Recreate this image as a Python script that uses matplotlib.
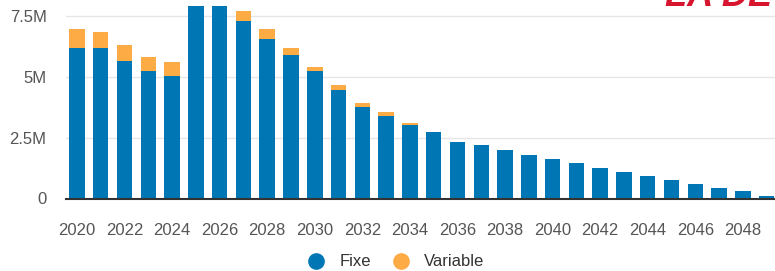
import matplotlib
matplotlib.use('Agg')
import matplotlib.pyplot as plt
from matplotlib.lines import Line2D
from matplotlib.ticker import FuncFormatter

plt.rcParams['font.family'] = ['Liberation Sans', 'DejaVu Sans']

# Annual repayment schedule (millions)
years = list(range(2020, 2050))
fixe = [6.18, 6.18, 5.64, 5.22, 5.04, 8.6, 8.4, 7.28, 6.56, 5.91,
        5.22, 4.45, 3.76, 3.37, 3.03, 2.72, 2.34, 2.19, 2.01, 1.80,
        1.63, 1.46, 1.24, 1.09, 0.94, 0.77, 0.60, 0.44, 0.29, 0.12]
variable = [0.77, 0.65, 0.66, 0.59, 0.55, 0.40, 0.40, 0.41, 0.39, 0.27,
            0.20, 0.22, 0.16, 0.17, 0.07, 0, 0, 0, 0, 0,
            0, 0, 0, 0, 0, 0, 0, 0, 0, 0]
x_ticks = list(range(2020, 2049, 2))
y_ticks = [0, 2.5, 5, 7.5]

blue = '#0077b4'
orange = '#fdab45'

fig = plt.figure(figsize=(7.75, 2.71), dpi=100)
ax = fig.add_axes([66 / 775, 72.5 / 271, 1 - 66 / 775, 192.5 / 271])

ax.bar(years, fixe, width=0.65, color=blue, zorder=2)
ax.bar(years, variable, width=0.65, bottom=fixe, color=orange, zorder=2)

ax.set_xlim(2019.54, 2049.35)
ax.set_ylim(0, 7.91)
ax.set_xticks(x_ticks)
ax.set_yticks(y_ticks)

def fmt(v, pos):
    if v == 0:
        return '0'
    return f'{v:g}M'

ax.yaxis.set_major_formatter(FuncFormatter(fmt))
ax.tick_params(axis='both', length=0, labelsize=12, labelcolor='#555555')
ax.tick_params(axis='y', pad=14)
ax.tick_params(axis='x', pad=17.5)

ax.grid(axis='y', color='#e6e6e6', linewidth=1, zorder=0)
for side in ['top', 'right', 'left']:
    ax.spines[side].set_visible(False)
ax.spines['bottom'].set_color('#333333')
ax.spines['bottom'].set_linewidth(1.5)
ax.spines['bottom'].set_zorder(3)

handles = [
    Line2D([], [], marker='o', linestyle='', color=blue, markersize=11, label='Fixe'),
    Line2D([], [], marker='o', linestyle='', color=orange, markersize=11, label='Variable'),
]
fig.legend(handles=handles, loc='center', bbox_to_anchor=(392 / 775, 1 - 262 / 271),
           ncol=2, frameon=False, fontsize=12, handletextpad=0.4, columnspacing=0.8,
           labelcolor='#333333')

# logo text, cut off at the top as in the source
fig.text(665 / 775, 1 - 6 / 271, 'LA DE', color='#d8152f', fontsize=26,
         fontweight='bold', fontstyle='italic', va='baseline', ha='left')

fig.savefig('out.png', dpi=100)
